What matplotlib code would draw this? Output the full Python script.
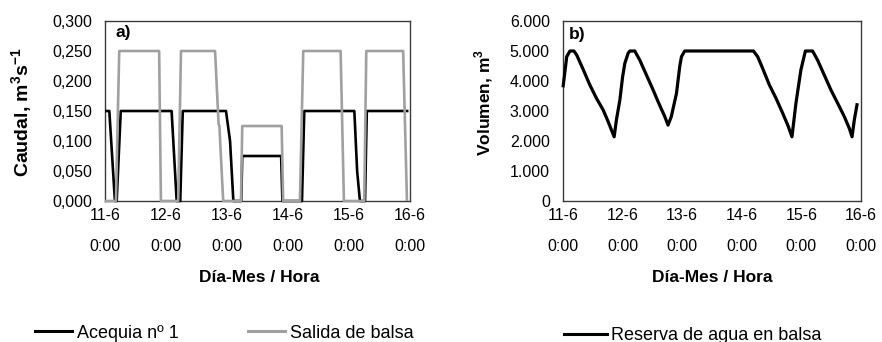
import matplotlib
matplotlib.use("Agg")
import matplotlib.pyplot as plt
from matplotlib.lines import Line2D
from matplotlib.ticker import FuncFormatter

plt.rcParams["font.family"] = ["Liberation Sans", "DejaVu Sans"]
plt.rcParams["mathtext.fontset"] = "custom"
plt.rcParams["mathtext.rm"] = "Liberation Sans"
plt.rcParams["mathtext.bf"] = "Liberation Sans:bold"

# Time axis: hours since 11-6 0:00
day_ticks = [0, 24, 48, 72, 96, 120]
day_labels = ["11-6\n0:00", "12-6\n0:00", "13-6\n0:00", "14-6\n0:00", "15-6\n0:00", "16-6\n0:00"]

# Acequia nº 1 flow (m3/s)
acequia_t = [0, 1.7, 3.9, 4.6, 6.2, 26.2, 28.2, 29.6, 30.6, 47.6, 49.2, 50.5,
             53.6, 54.0, 69.3, 69.8, 77.5, 78.4, 98.1, 99.2, 100.3, 102.3, 103.0, 119.4]
acequia_q = [0.15, 0.15, 0.0, 0.0, 0.15, 0.15, 0.0, 0.0, 0.15, 0.15, 0.10, 0.0,
             0.0, 0.075, 0.075, 0.0, 0.0, 0.15, 0.15, 0.05, 0.0, 0.0, 0.15, 0.15]

# Outflow from the reservoir (m3/s)
salida_t = [0, 4.3, 5.6, 21.3, 22.0, 28.8, 29.9, 43.3, 44.7, 45.0, 46.5, 53.5, 54.0,
            69.5, 70.1, 76.7, 78.0, 92.7, 94.0, 102.0, 102.8, 117.3, 118.8]
salida_q = [0.0, 0.0, 0.25, 0.25, 0.0, 0.0, 0.25, 0.25, 0.128, 0.125, 0.0, 0.0, 0.125,
            0.125, 0.0, 0.0, 0.25, 0.25, 0.0, 0.0, 0.25, 0.25, 0.0]

# Water stored in the reservoir (m3)
reserva_t = [0, 1.5, 2.8, 4.4, 5.5, 8.2, 10.8, 13.5, 16.2, 18.2, 20.6,
             21.5, 22.9, 24.0, 24.9, 26.2, 26.9, 28.9, 30.9, 33.6, 36.3, 38.3, 41.0, 42.3,
             43.6, 45.7, 47.0, 47.7, 49.0, 76.7, 78.4, 80.4, 83.1, 85.8, 88.5, 90.5, 92.2,
             93.8, 95.8, 97.6, 100.5, 102.5, 105.2, 107.9, 110.6, 113.3, 115.3, 116.4,
             117.3, 118.5]
reserva_v = [3790, 4810, 5000, 5000, 4870, 4370, 3870, 3420, 3030, 2640, 2140,
             2700, 3370, 4140, 4590, 4920, 5000, 5000, 4700, 4200, 3700, 3310, 2810, 2530,
             2810, 3590, 4480, 4810, 5000, 5000, 4810, 4420, 3870, 3420, 2920, 2530, 2140,
             3260, 4370, 5000, 5000, 4700, 4200, 3700, 3260, 2810, 2420, 2140,
             2700, 3260]

W, H = 882, 342
GRAY = "#a0a0a0"
SPINE = "#3a3a3a"

fig = plt.figure(figsize=(W / 100, H / 100), dpi=100)
ax1 = fig.add_axes([105 / W, 141 / H, 305 / W, 180 / H])
ax2 = fig.add_axes([563 / W, 141 / H, 298 / W, 180 / H])

line_kw = dict(solid_joinstyle="round", solid_capstyle="butt", clip_on=False, zorder=3)
ax1.plot(acequia_t, acequia_q, color="black", lw=1.9, **line_kw)
ax1.plot(salida_t, salida_q, color=GRAY, lw=1.9, **line_kw)
ax2.plot(reserva_t, reserva_v, color="black", lw=2.3, **line_kw)

ax1.set_ylim(0, 0.3)
ax1.set_yticks([0, 0.05, 0.1, 0.15, 0.2, 0.25, 0.3])
ax1.yaxis.set_major_formatter(FuncFormatter(lambda v, p: f"{v:.3f}".replace(".", ",")))

ax2.set_ylim(0, 6000)
ax2.set_yticks([0, 1000, 2000, 3000, 4000, 5000, 6000])
ax2.yaxis.set_major_formatter(
    FuncFormatter(lambda v, p: "0" if v == 0 else f"{v:,.0f}".replace(",", ".")))

for ax in (ax1, ax2):
    ax.set_xlim(0, 120)
    ax.set_xticks(day_ticks)
    ax.set_xticklabels(day_labels)
    for lab in ax.get_xticklabels():
        lab.set_linespacing(2.35)
    ax.tick_params(axis="both", length=0, labelsize=11.5, colors="black")
    ax.tick_params(axis="y", pad=9.5)
    ax.tick_params(axis="x", pad=5)
    for s in ax.spines.values():
        s.set_color(SPINE)
        s.set_linewidth(1.0)
        s.set_zorder(2)

def fy(py):
    return 1 - py / H

fig.text(259 / W, fy(278), "Día-Mes / Hora", ha="center", va="center",
         fontsize=12.5, fontweight="bold")
fig.text(712 / W, fy(278), "Día-Mes / Hora", ha="center", va="center",
         fontsize=12.5, fontweight="bold")

fig.text(22 / W, fy(112), r"Caudal, m$^{\mathbf{3}}$s$^{\mathbf{-1}}$", rotation=90,
         ha="center", va="center", fontsize=14, fontweight="bold")
fig.text(484 / W, fy(103), r"Volumen, m$^{\mathbf{3}}$", rotation=90,
         ha="center", va="center", fontsize=12.5, fontweight="bold")

fig.text(116 / W, fy(33), "a)", ha="left", va="center", fontsize=12.5, fontweight="bold")
fig.text(569 / W, fy(35), "b)", ha="left", va="center", fontsize=12.5, fontweight="bold")

leg_kw = dict(frameon=False, fontsize=13, borderpad=0, borderaxespad=0, loc="center left")
fig.legend(handles=[Line2D([], [], color="black", lw=2.2),
                    Line2D([], [], color=GRAY, lw=2.2)],
           labels=["Acequia nº 1", "Salida de balsa"], ncol=2,
           bbox_to_anchor=(35 / W, fy(333)), handlelength=2.05, handletextpad=0.3,
           columnspacing=3.8, **leg_kw)
fig.legend(handles=[Line2D([], [], color="black", lw=2.2)],
           labels=["Reserva de agua en balsa"],
           bbox_to_anchor=(564 / W, fy(335.5)), handlelength=2.4, handletextpad=0.22,
           **leg_kw)

fig.savefig("out.png", dpi=100)
